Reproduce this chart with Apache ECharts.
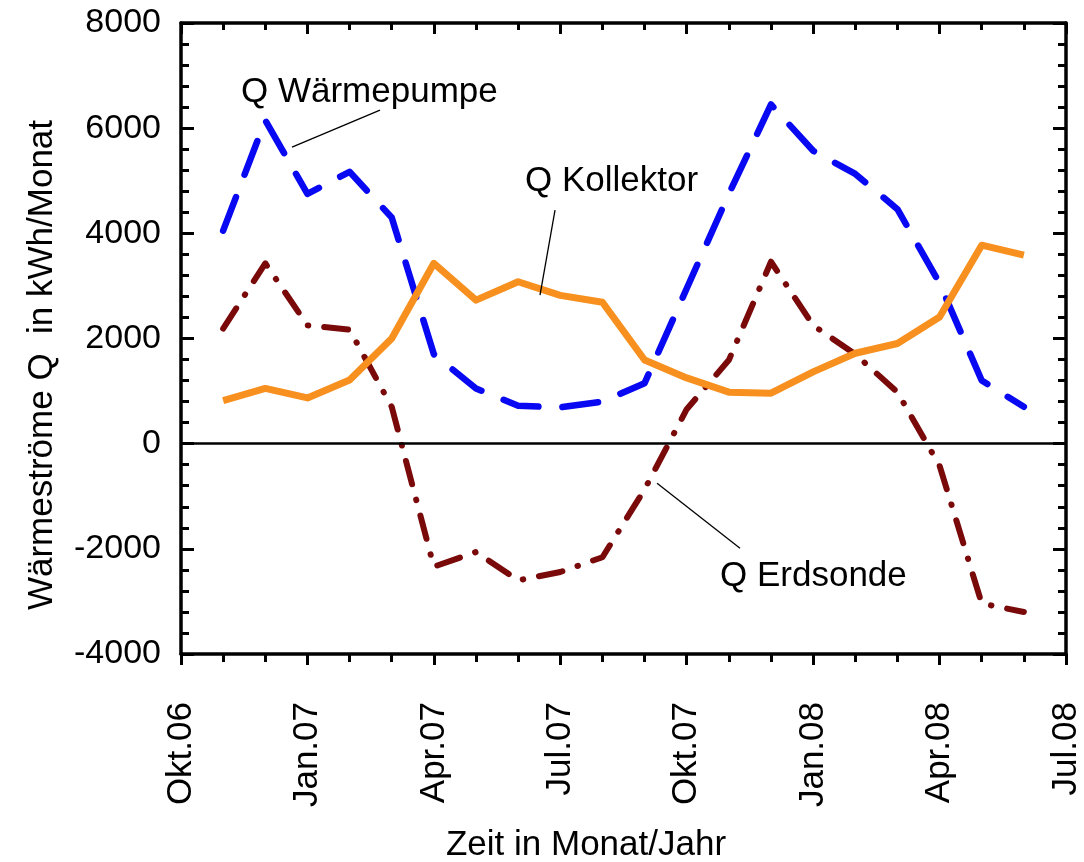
<!DOCTYPE html>
<html><head><meta charset="utf-8">
<script src="https://cdn.jsdelivr.net/npm/echarts@6/dist/echarts.min.js"></script>
<style>html,body{margin:0;padding:0;background:#fff}#c{width:1084px;height:862px}</style>
</head><body><div id="c"></div>
<script>
// Month positions (0 = Okt.06, 21 = Jul.08)
const monthIndex = [1,2,3,4,5,6,7,8,9,10,11,12,13,14,15,16,17,18,19,20];
const monthNames = ['Nov.06','Dez.06','Jan.07','Feb.07','Mär.07','Apr.07','Mai.07','Jun.07','Jul.07','Aug.07','Sep.07','Okt.07','Nov.07','Dez.07','Jan.08','Feb.08','Mär.08','Apr.08','Mai.08','Jun.08'];
const tickLabels = ['Okt.06','Jan.07','Apr.07','Jul.07','Okt.07','Jan.08','Apr.08','Jul.08'];
// kWh/Monat
const qWaermepumpe = [4050,6150,4750,5170,4300,1700,1050,720,690,800,1150,2950,4750,6450,5570,5130,4460,3050,1200,700];
const qKollektor   = [820,1050,870,1210,2000,3430,2730,3080,2820,2690,1590,1250,980,960,1365,1720,1905,2410,3775,3585];
const qErdsonde    = [2190,3430,2250,2170,700,-2340,-2060,-2600,-2440,-2160,-870,655,1590,3460,2250,1700,980,-420,-3040,-3200];

const FONT = '"Liberation Sans", Arial, sans-serif';
const pairs = arr => arr.map((v, i) => [monthIndex[i], v]);

const chart = echarts.init(document.getElementById('c'), null, {renderer: 'canvas'});

function mkAxisLine() { return {show: true, onZero: false, lineStyle: {color: '#000', width: 3.5, type: 'solid'}}; }
function mkTick(inside, len) { return {show: true, inside: inside, length: len, lineStyle: {color: '#000', width: 3}}; }
function mkMinor(n, len) { return {show: true, splitNumber: n, length: len, lineStyle: {color: '#000', width: 3}}; }

const option = {
  animation: false,
  backgroundColor: '#fff',
  grid: {left: 181, right: 18, top: 23, bottom: 208, containLabel: false},
  xAxis: [
    {
      type: 'value', min: 0, max: 21, interval: 3, position: 'bottom',
      splitLine: {show: false}, axisLine: mkAxisLine(),
      axisTick: mkTick(false, 11), minorTick: mkMinor(3, 8),
      axisLabel: {
        rotate: 90, margin: 48, color: '#000', fontSize: 35, fontFamily: FONT,
        formatter: v => tickLabels[Math.round(v / 3)] || ''
      }
    },
    {
      type: 'value', min: 0, max: 21, interval: 3, position: 'top',
      splitLine: {show: false}, axisLine: mkAxisLine(),
      axisTick: mkTick(true, 11), minorTick: mkMinor(3, 7),
      axisLabel: {show: false}
    }
  ],
  yAxis: [
    {
      type: 'value', min: -4000, max: 8000, interval: 2000, position: 'left',
      splitLine: {show: false}, axisLine: mkAxisLine(),
      axisTick: mkTick(true, 13), minorTick: mkMinor(5, 8),
      axisLabel: {margin: 20, color: '#000', fontSize: 34, fontFamily: FONT, formatter: v => String(v)}
    },
    {
      type: 'value', min: -4000, max: 8000, interval: 2000, position: 'right',
      splitLine: {show: false}, axisLine: mkAxisLine(),
      axisTick: mkTick(true, 13), minorTick: mkMinor(5, 8),
      axisLabel: {show: false}
    }
  ],
  series: [
    {
      name: 'Q Wärmepumpe', type: 'line', data: pairs(qWaermepumpe),
      xAxisIndex: 0, yAxisIndex: 0, showSymbol: false, symbol: 'none', z: 3,
      lineStyle: {color: '#0808f2', width: 6.5, type: [36, 24], cap: 'round', join: 'round'}
    },
    {
      name: 'Q Kollektor', type: 'line', data: pairs(qKollektor),
      xAxisIndex: 0, yAxisIndex: 0, showSymbol: false, symbol: 'none', z: 4,
      lineStyle: {color: '#f7901e', width: 7, type: 'solid', join: 'round'},
      markLine: {
        silent: true, symbol: ['none', 'none'], animation: false,
        label: {show: false},
        data: [
          {yAxis: 0, lineStyle: {color: '#000', width: 2.5, type: 'solid'}},
          [{coord: [2.634, 5639], lineStyle: {color: '#000', width: 1.3, type: 'solid'}}, {coord: [4.722, 6343]}],
          [{coord: [8.519, 2824], lineStyle: {color: '#000', width: 1.3, type: 'solid'}}, {coord: [8.875, 4441]}],
          [{coord: [11.296, -751], lineStyle: {color: '#000', width: 1.3, type: 'solid'}}, {coord: [13.265, -1987]}]
        ]
      }
    },
    {
      name: 'Q Erdsonde', type: 'line', data: pairs(qErdsonde),
      xAxisIndex: 0, yAxisIndex: 0, showSymbol: false, symbol: 'none', z: 3,
      lineStyle: {color: '#7a0a0a', width: 6, type: [24, 16, 0.5, 16], cap: 'round', join: 'round'}
    }
  ]
};
chart.setOption(option);

// Text annotations placed in data coordinates
const notes = [
  {text: 'Q Wärmepumpe', at: [1.424, 6676]},
  {text: 'Q Kollektor', at: [8.163, 4992]},
  {text: 'Q Erdsonde', at: [12.79, -2520]}
];
const gfx = notes.map(n => {
  const p = chart.convertToPixel({xAxisIndex: 0, yAxisIndex: 0}, n.at);
  return {type: 'text', x: p[0], y: p[1], z: 10,
    style: {text: n.text, fill: '#000', font: '35px ' + FONT, textAlign: 'left', textVerticalAlign: 'middle'}};
});
gfx.push({type: 'text', x: 42, y: 365, rotation: Math.PI / 2, z: 10,
  style: {text: 'Wärmeströme Q  in kWh/Monat', fill: '#000', font: '35px ' + FONT, textAlign: 'center', textVerticalAlign: 'middle'}});
gfx.push({type: 'text', x: 586, y: 845, z: 10,
  style: {text: 'Zeit in Monat/Jahr', fill: '#000', font: '35px ' + FONT, textAlign: 'center', textVerticalAlign: 'middle'}});
chart.setOption({graphic: gfx});
</script>
</body></html>
